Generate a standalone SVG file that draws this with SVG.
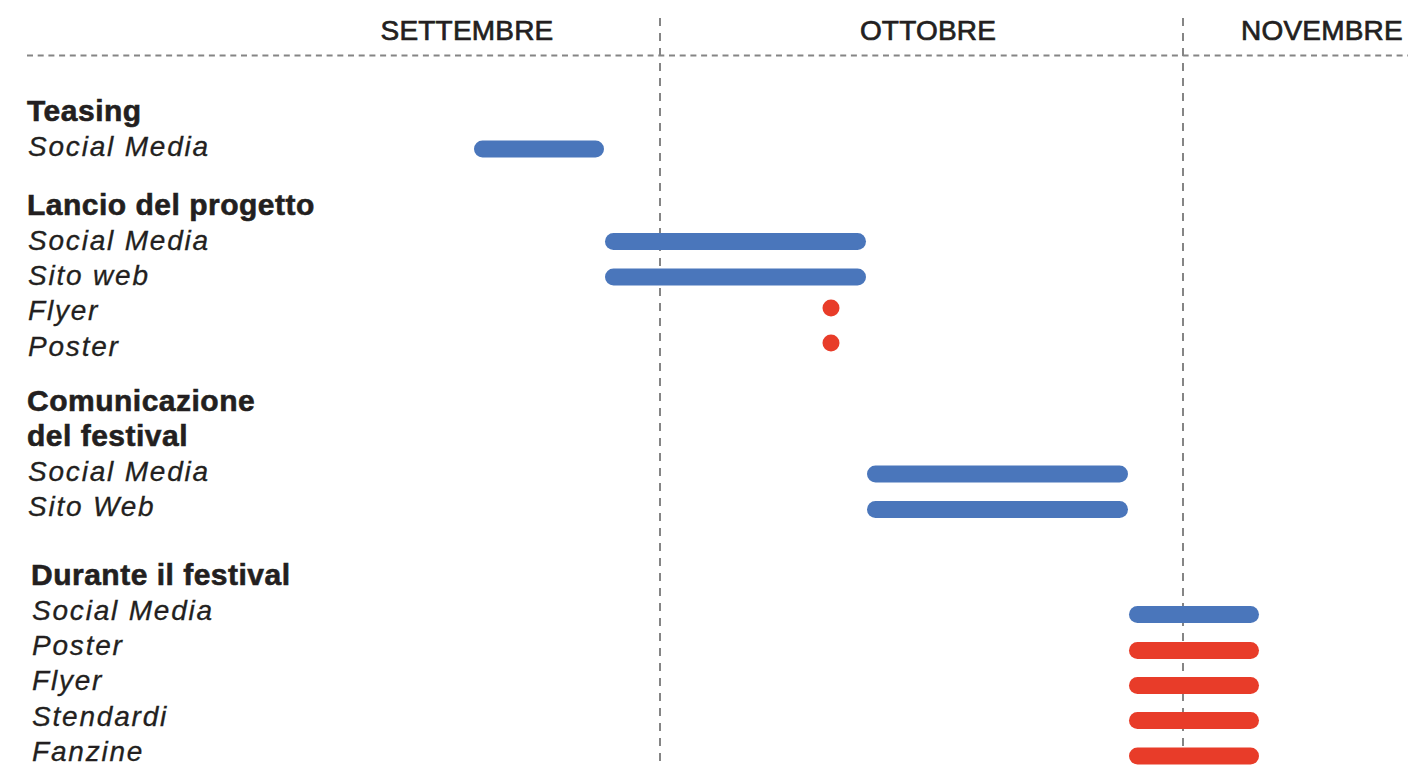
<svg xmlns="http://www.w3.org/2000/svg" width="1408" height="766" viewBox="0 0 1408 766">
<style>
.month{font-family:"Liberation Sans",Arial,sans-serif;font-size:28px;fill:#231f20;stroke:#231f20;stroke-width:0.7px;letter-spacing:0.2px;}
.head{font-family:"Liberation Sans",Arial,sans-serif;font-size:30px;font-weight:bold;fill:#231f20;stroke:#231f20;stroke-width:0.6px;letter-spacing:0.5px;}
.item{font-family:"Liberation Sans",Arial,sans-serif;font-size:28px;font-style:italic;fill:#231f20;letter-spacing:1.8px;stroke:#231f20;stroke-width:0.3px;}
.grid{stroke:#858585;stroke-width:2;fill:none;}
.bar{stroke-width:17;stroke-linecap:round;fill:none;}
.blue{stroke:#4a76bb;}
.red{stroke:#e83c29;}
.dot{fill:#e83c29;}
</style>
<rect width="1408" height="766" fill="#ffffff"/>
<g id="grid">
<line class="grid" x1="27" y1="55.5" x2="1408" y2="55.5" stroke-dasharray="6,4.7"/>
<line class="grid" x1="660" y1="18" x2="660" y2="766" stroke-dasharray="8,7"/>
<line class="grid" x1="1183" y1="18" x2="1183" y2="766" stroke-dasharray="8,7"/>
</g>
<g id="months">
<text class="month" x="467" y="40" text-anchor="middle">SETTEMBRE</text>
<text class="month" x="928" y="40" text-anchor="middle">OTTOBRE</text>
<text class="month" x="1322" y="40" text-anchor="middle">NOVEMBRE</text>
</g>
<g id="teasing">
<text class="head" x="27" y="121">Teasing</text>
<text class="item" x="28" y="156">Social Media</text>
</g>
<g id="lancio">
<text class="head" x="27" y="215">Lancio del progetto</text>
<text class="item" x="28" y="250">Social Media</text>
<text class="item" x="28" y="285">Sito web</text>
<text class="item" x="28" y="320">Flyer</text>
<text class="item" x="28" y="356">Poster</text>
</g>
<g id="comunicazione">
<text class="head" x="27" y="411">Comunicazione</text>
<text class="head" x="27" y="446">del festival</text>
<text class="item" x="28" y="481">Social Media</text>
<text class="item" x="28" y="516">Sito Web</text>
</g>
<g id="durante">
<text class="head" x="31" y="585">Durante il festival</text>
<text class="item" x="32" y="620">Social Media</text>
<text class="item" x="32" y="655">Poster</text>
<text class="item" x="32" y="690">Flyer</text>
<text class="item" x="32" y="726">Stendardi</text>
<text class="item" x="32" y="761">Fanzine</text>
</g>
<g id="bars">
<line class="bar blue" x1="482.5" y1="149" x2="595.5" y2="149"/>
<line class="bar blue" x1="613.5" y1="241.5" x2="857.5" y2="241.5"/>
<line class="bar blue" x1="613.5" y1="277" x2="857.5" y2="277"/>
<circle class="dot" cx="831" cy="308" r="8.5"/>
<circle class="dot" cx="831" cy="343" r="8.5"/>
<line class="bar blue" x1="875.5" y1="474" x2="1119.5" y2="474"/>
<line class="bar blue" x1="875.5" y1="509.5" x2="1119.5" y2="509.5"/>
<line class="bar blue" x1="1137.5" y1="614.5" x2="1250.5" y2="614.5"/>
<line class="bar red" x1="1137.5" y1="650.5" x2="1250.5" y2="650.5"/>
<line class="bar red" x1="1137.5" y1="685.5" x2="1250.5" y2="685.5"/>
<line class="bar red" x1="1137.5" y1="720.5" x2="1250.5" y2="720.5"/>
<line class="bar red" x1="1137.5" y1="756" x2="1250.5" y2="756"/>
</g>
</svg>
